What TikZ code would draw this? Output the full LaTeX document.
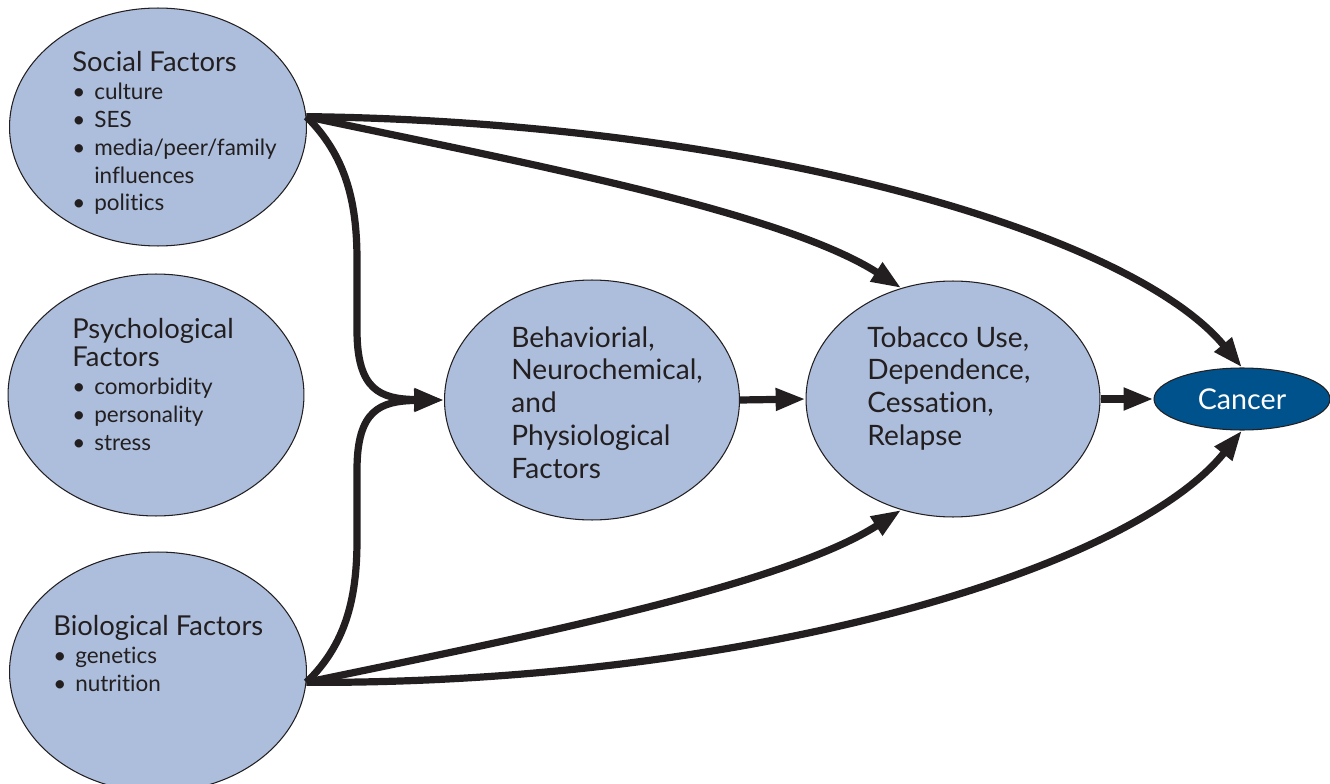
\documentclass[tikz,border=0pt]{standalone}
\usepackage{fontspec}
\setmainfont{Lato}[Ligatures=NoCommon]
\usetikzlibrary{arrows.meta,shapes.geometric}
\definecolor{ell}{HTML}{ADBEDC}
\definecolor{canc}{HTML}{00528C}
\definecolor{ink}{HTML}{231F20}
\newcommand\bl{\makebox[12.5pt][l]{\textbullet}}
\newcommand\ttl{\fontsize{15.6}{15.87}\selectfont}
\begin{document}
\begin{tikzpicture}[x=0.02cm,y=-0.02cm,
  fac/.style={ellipse, draw=ink, line width=0.6pt, fill=ell, inner sep=0pt},
  lbl/.style={anchor=north west, inner sep=0pt, align=left, text=ink, font=\fontsize{12.8}{15.87}\selectfont},
  big/.style={anchor=north west, inner sep=0pt, align=left, text=ink, font=\fontsize{16}{18.7}\selectfont},
  arr/.style={draw=ink, line width=4.1pt, -{Triangle[length=17pt,width=12pt]}}]
\useasboundingbox (0,0) rectangle (1330,784);
% ellipses
\node[fac, minimum width=5.94cm, minimum height=4.76cm] (soc) at (158,127) {};
\node[fac, minimum width=5.92cm, minimum height=4.84cm] (psy) at (156,395) {};
\node[fac, minimum width=5.94cm, minimum height=4.8cm] (bio) at (158,672) {};
\node[fac, minimum width=5.9cm, minimum height=4.8cm] (beh) at (592,400) {};
\node[fac, minimum width=5.88cm, minimum height=4.72cm] (tob) at (953,399) {};
\node[ellipse, draw=ink, line width=0.6pt, fill=canc, minimum width=3.52cm, minimum height=1.24cm, inner sep=0pt, text=white, font=\fontsize{16.3}{17}\selectfont] (can) at (1242,399) {Cancer};
% texts
\node[lbl] (socT) at (72,51) {{\ttl Social Factors}\\ \bl culture\\ \bl SES\\ \bl media/peer/family\\ \hphantom{\bl}influences\\ \bl politics};
\node[lbl] (psyT) at (72,318) {{\ttl Psychological}\\{\ttl Factors}\\ \bl comorbidity\\ \bl personality\\ \bl stress};
\node[lbl] (bioT) at (53,615) {{\ttl Biological Factors}\\ \bl genetics\\ \bl nutrition};
\node[big] (behT) at (511,326) {Behaviorial,\\Neurochemical,\\and\\Physiological\\Factors};
\node[big] (tobT) at (867,326) {Tobacco Use,\\Dependence,\\Cessation,\\Relapse};
% connectors
\draw[arr] (soc.4) .. controls (345,155) and (357,200) .. (357,260) -- (357,330) .. controls (357,390) and (380,399) .. (beh.west);
\draw[arr] (bio.-4) .. controls (345,645) and (357,600) .. (357,540) -- (357,470) .. controls (357,410) and (380,401) .. (beh.west);
\draw[arr] (soc.4) .. controls (500,158) and (780,210) .. (tob.115);
\draw[arr] (bio.-4) .. controls (500,642) and (780,588) .. (tob.245);
\draw[arr] (soc.4) .. controls (750,122) and (1130,232) .. (can.north);
\draw[arr] (bio.-4) .. controls (750,684) and (1130,570) .. (can.south);
\draw[arr] (beh.east) -- (tob.west);
\draw[arr] (tob.east) -- (can.west);
\end{tikzpicture}
\end{document}
